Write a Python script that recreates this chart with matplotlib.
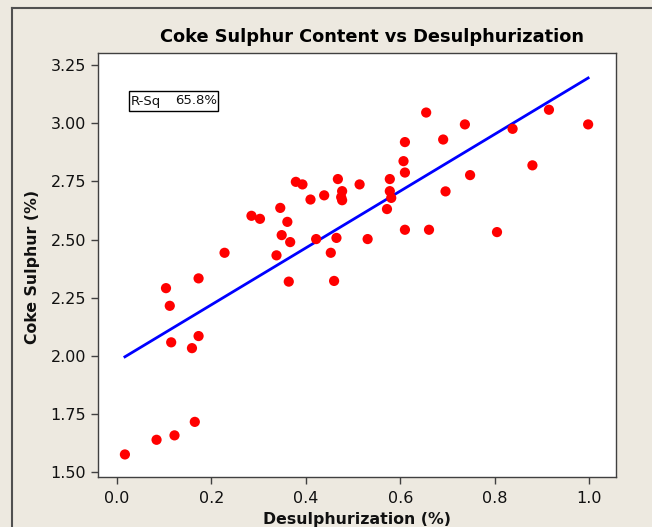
import matplotlib
matplotlib.use("Agg")
import matplotlib.pyplot as plt
from matplotlib.patches import Rectangle
from matplotlib.lines import Line2D
import numpy as np

# ---- data ----
desulph = [0.017, 0.084, 0.122, 0.165, 0.104, 0.112, 0.115, 0.159, 0.173, 0.173,
           0.228, 0.285, 0.303, 0.338, 0.346, 0.349, 0.361, 0.367, 0.364, 0.379,
           0.393, 0.410, 0.422, 0.439, 0.453, 0.460, 0.465, 0.468, 0.477, 0.475,
           0.477, 0.514, 0.531, 0.572, 0.578, 0.578, 0.581, 0.607, 0.610, 0.610,
           0.610, 0.655, 0.661, 0.691, 0.696, 0.737, 0.748, 0.805, 0.838, 0.880,
           0.915, 0.998]
sulphur = [1.576, 1.639, 1.658, 1.716, 2.291, 2.215, 2.058, 2.033, 2.085, 2.333,
           2.443, 2.602, 2.589, 2.432, 2.636, 2.519, 2.576, 2.489, 2.319, 2.748,
           2.737, 2.672, 2.502, 2.690, 2.443, 2.322, 2.507, 2.760, 2.708, 2.682,
           2.669, 2.737, 2.502, 2.631, 2.760, 2.708, 2.679, 2.837, 2.919, 2.788,
           2.542, 3.046, 2.542, 2.930, 2.707, 2.995, 2.777, 2.532, 2.976, 2.819,
           3.058, 2.995]
fit_intercept = 1.975
fit_slope = 1.222
r_sq_label = "65.8%"
x_ticks = [0.0, 0.2, 0.4, 0.6, 0.8, 1.0]
y_ticks = [1.50, 1.75, 2.00, 2.25, 2.50, 2.75, 3.00, 3.25]

bg = "#EDE9E0"
W, H = 652, 527
fig = plt.figure(figsize=(W / 100, H / 100), dpi=100, facecolor=bg)
plt.rcParams['font.family'] = ['DejaVu Sans']

ax = fig.add_axes([98 / W, 1 - 477 / H, 518 / W, 424 / H])
ax.set_facecolor("white")

xs = np.array(desulph)
ys = np.array(sulphur)
ax.scatter(xs, ys, s=54, color="#FF0000", edgecolors="none", zorder=3)

xf = np.linspace(xs.min(), xs.max(), 50)
ax.plot(xf, fit_intercept + fit_slope * xf, color="#0000FF", lw=2.0, zorder=2)

ax.set_xlim(-0.040, 1.057)
ax.set_ylim(1.479, 3.302)
ax.set_xticks(x_ticks)
ax.set_xticklabels([f"{v:.1f}" for v in x_ticks])
ax.set_yticks(y_ticks)
ax.set_yticklabels([f"{v:.2f}" for v in y_ticks])
ax.tick_params(axis="both", direction="out", length=5, width=1, color="#404040",
               labelsize=11.5, labelcolor="#111111", pad=3.5)
ax.tick_params(axis="x", pad=5)
for sp in ax.spines.values():
    sp.set_color("#404040")
    sp.set_linewidth(1.0)

# title and axis labels
fig.text(371.5 / W, 1 - 42.3 / H, "Coke Sulphur Content vs Desulphurization",
         ha="center", va="baseline", fontsize=12.8, fontweight="bold", color="#000000")
fig.text(33 / W, 1 - 267 / H, "Coke Sulphur (%)", rotation=90, ha="center",
         va="center", fontsize=11.3, fontweight="bold", color="#111111")
fig.text(357 / W, 1 - 524 / H, "Desulphurization (%)", ha="center", va="baseline",
         fontsize=11.3, fontweight="bold", color="#111111")

# R-Sq box
fig.patches.append(Rectangle((129.3 / W, 1 - 111 / H), 88.7 / W, 19.7 / H,
                             transform=fig.transFigure, facecolor="white",
                             edgecolor="black", lw=1.0, zorder=5))
fig.text(130.5 / W, 1 - 101 / H, "R-Sq", ha="left", va="center", fontsize=9.5,
         color="#111111", zorder=6)
fig.text(217 / W, 1 - 101 / H, r_sq_label, ha="right", va="center", fontsize=9.5,
         color="#111111", zorder=6)

# outer frame lines (top and left)
fig.lines.append(Line2D([12 / W, 1.0], [1 - 8.3 / H, 1 - 8.3 / H],
                        transform=fig.transFigure, color="#505050", lw=1.5))
fig.lines.append(Line2D([12 / W, 12 / W], [0.0, 1 - 8.3 / H],
                        transform=fig.transFigure, color="#505050", lw=1.5))

fig.savefig("out.png", dpi=100, facecolor=bg)
